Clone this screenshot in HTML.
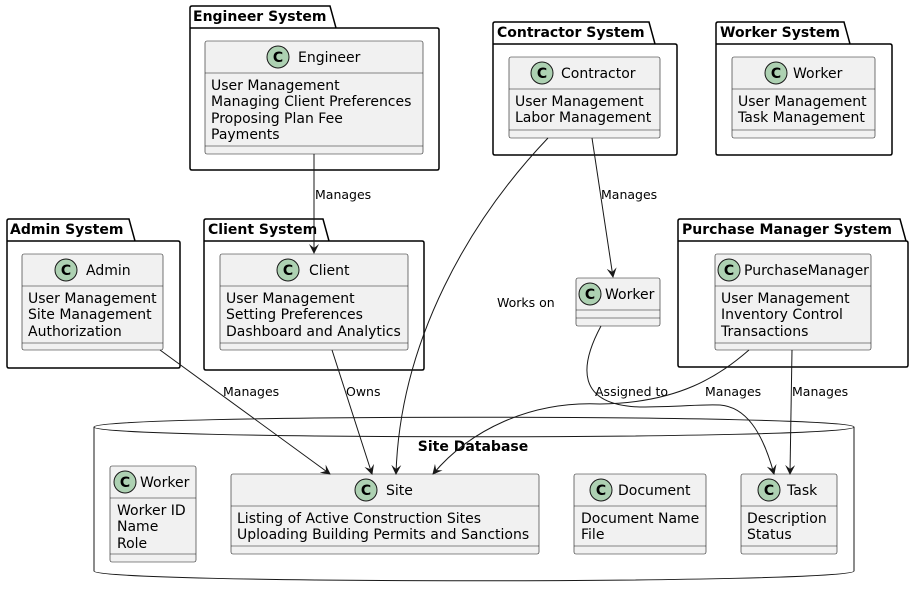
<!DOCTYPE html>
<html><head><meta charset="utf-8"><style>
body{margin:0;background:#fff}
svg{display:block;font-family:"DejaVu Sans","Liberation Sans",sans-serif}
.pk{fill:none;stroke:#000;stroke-width:1.5}
.cl{fill:#f1f1f1;stroke:#181818;stroke-width:0.6}
.ln{stroke:#181818;stroke-width:0.6}
.t{font-size:14px;fill:#000}
.pt{font-size:14px;font-weight:bold;fill:#000}
.lb{font-size:12.5px;fill:#000}
.ar{fill:none;stroke:#181818;stroke-width:1}
</style></head><body>
<svg width="914" height="595" viewBox="0 0 914 595">
<defs>
<marker id="a" viewBox="0 0 10 10" refX="9" refY="5" markerWidth="10" markerHeight="10" orient="auto" markerUnits="userSpaceOnUse"><path d="M0,0 L10,5 L0,10 L4,5 Z" fill="#181818"/></marker>
<g id="c"><circle r="11" fill="#ADD1B2" stroke="#181818" stroke-width="1"/><text x="0" y="5" text-anchor="middle" style="font-size:14px;font-weight:bold">C</text></g>
</defs>

<path class="pk" d="M190,28 V8 Q190,6 192,6 H330 L336,28 H437 Q439,28 439,30 V168 Q439,170 437,170 H192 Q190,170 190,168 Z M190,28 H336"/>
<text class="pt" x="193" y="21">Engineer System</text>
<rect class="cl" x="205" y="41" width="218" height="113" rx="2"/>
<use href="#c" x="278" y="57"/><text class="t" x="298" y="62">Engineer</text>
<line class="ln" x1="205" y1="73" x2="423" y2="73"/>
<text class="t" x="211" y="90">User Management</text><text class="t" x="211" y="106">Managing Client Preferences</text><text class="t" x="211" y="123">Proposing Plan Fee</text><text class="t" x="211" y="139">Payments</text>
<line class="ln" x1="205" y1="146" x2="423" y2="146"/>

<path class="pk" d="M493,44 V24 Q493,22 495,22 H649 L655,44 H675 Q677,44 677,46 V153 Q677,155 675,155 H495 Q493,155 493,153 Z M493,44 H655"/>
<text class="pt" x="497" y="37">Contractor System</text>
<rect class="cl" x="509" y="57" width="151" height="81" rx="2"/>
<use href="#c" x="542" y="73"/><text class="t" x="561" y="78">Contractor</text>
<line class="ln" x1="509" y1="89" x2="660" y2="89"/>
<text class="t" x="515" y="106">User Management</text><text class="t" x="515" y="122">Labor Management</text>
<line class="ln" x1="509" y1="130" x2="660" y2="130"/>

<path class="pk" d="M716,44 V24 Q716,22 718,22 H844 L850,44 H890 Q892,44 892,46 V153 Q892,155 890,155 H718 Q716,155 716,153 Z M716,44 H850"/>
<text class="pt" x="720" y="37">Worker System</text>
<rect class="cl" x="732" y="57" width="143" height="81" rx="2"/>
<use href="#c" x="776" y="73"/><text class="t" x="793" y="78">Worker</text>
<line class="ln" x1="732" y1="89" x2="875" y2="89"/>
<text class="t" x="738" y="106">User Management</text><text class="t" x="738" y="122">Task Management</text>
<line class="ln" x1="732" y1="130" x2="875" y2="130"/>

<path class="pk" d="M7,241 V221 Q7,219 9,219 H129 L135,241 H178 Q180,241 180,243 V366 Q180,368 178,368 H9 Q7,368 7,366 Z M7,241 H135"/>
<text class="pt" x="10" y="234">Admin System</text>
<rect class="cl" x="22" y="254" width="141" height="96" rx="2"/>
<use href="#c" x="66" y="270"/><text class="t" x="86" y="275">Admin</text>
<line class="ln" x1="22" y1="286" x2="163" y2="286"/>
<text class="t" x="28" y="303">User Management</text><text class="t" x="28" y="319">Site Management</text><text class="t" x="28" y="336">Authorization</text>
<line class="ln" x1="22" y1="343" x2="163" y2="343"/>

<path class="pk" d="M204,241 V221 Q204,219 206,219 H323 L329,241 H422 Q424,241 424,243 V368 Q424,370 422,370 H206 Q204,370 204,368 Z M204,241 H329"/>
<text class="pt" x="208" y="234">Client System</text>
<rect class="cl" x="220" y="254" width="188" height="96" rx="2"/>
<use href="#c" x="288" y="270"/><text class="t" x="309" y="275">Client</text>
<line class="ln" x1="220" y1="286" x2="408" y2="286"/>
<text class="t" x="226" y="303">User Management</text><text class="t" x="226" y="319">Setting Preferences</text><text class="t" x="226" y="336">Dashboard and Analytics</text>
<line class="ln" x1="220" y1="343" x2="408" y2="343"/>

<path class="pk" d="M678,241 V221 Q678,219 680,219 H900 L906,241 H906 Q908,241 908,243 V365 Q908,367 906,367 H680 Q678,367 678,365 Z M678,241 H906"/>
<text class="pt" x="682" y="234">Purchase Manager System</text>
<rect class="cl" x="715" y="254" width="156" height="96" rx="2"/>
<use href="#c" x="729" y="270"/><text class="t" x="744" y="275">PurchaseManager</text>
<line class="ln" x1="715" y1="286" x2="871" y2="286"/>
<text class="t" x="721" y="303">User Management</text><text class="t" x="721" y="319">Inventory Control</text><text class="t" x="721" y="336">Transactions</text>
<line class="ln" x1="715" y1="343" x2="871" y2="343"/>

<rect class="cl" x="576" y="278" width="84" height="48" rx="2"/>
<use href="#c" x="590" y="294"/><text class="t" x="605" y="299">Worker</text>
<line class="ln" x1="576" y1="310" x2="660" y2="310"/><line class="ln" x1="576" y1="318" x2="660" y2="318"/>
<text class="lb" x="497" y="307">Works on</text>

<path d="M94,427 C94,414 854,414 854,427 V571 C854,584 94,584 94,571 Z" fill="#fff" stroke="#181818" stroke-width="1"/>
<path d="M94,427 C94,440 854,440 854,427" fill="none" stroke="#181818" stroke-width="1"/>
<text class="pt" x="473" y="451" text-anchor="middle">Site Database</text>

<rect class="cl" x="110" y="466" width="86" height="96" rx="2"/>
<use href="#c" x="125" y="482"/><text class="t" x="140" y="487">Worker</text>
<line class="ln" x1="110" y1="498" x2="196" y2="498"/>
<text class="t" x="117" y="515">Worker ID</text><text class="t" x="117" y="531">Name</text><text class="t" x="117" y="548">Role</text>
<line class="ln" x1="110" y1="554" x2="196" y2="554"/>

<rect class="cl" x="231" y="474" width="308" height="80" rx="2"/>
<use href="#c" x="366" y="490"/><text class="t" x="386" y="495">Site</text>
<line class="ln" x1="231" y1="506" x2="539" y2="506"/>
<text class="t" x="237" y="523">Listing of Active Construction Sites</text><text class="t" x="237" y="539">Uploading Building Permits and Sanctions</text>
<line class="ln" x1="231" y1="546" x2="539" y2="546"/>

<rect class="cl" x="574" y="474" width="132" height="80" rx="2"/>
<use href="#c" x="601" y="490"/><text class="t" x="618" y="495">Document</text>
<line class="ln" x1="574" y1="506" x2="706" y2="506"/>
<text class="t" x="581" y="523">Document Name</text><text class="t" x="581" y="539">File</text>
<line class="ln" x1="574" y1="546" x2="706" y2="546"/>

<rect class="cl" x="741" y="474" width="96" height="80" rx="2"/>
<use href="#c" x="769" y="490"/><text class="t" x="787" y="495">Task</text>
<line class="ln" x1="741" y1="506" x2="837" y2="506"/>
<text class="t" x="747" y="523">Description</text><text class="t" x="747" y="539">Status</text>
<line class="ln" x1="741" y1="546" x2="837" y2="546"/>

<path class="ar" d="M314,154 V253" marker-end="url(#a)"/><text class="lb" x="315" y="199">Manages</text>
<path class="ar" d="M592,138 L613,277" marker-end="url(#a)"/><text class="lb" x="601" y="199">Manages</text>
<path class="ar" d="M548,138 C470,220 400,340 396,474" marker-end="url(#a)"/>
<path class="ar" d="M160,350 L330,474" marker-end="url(#a)"/><text class="lb" x="223" y="396">Manages</text>
<path class="ar" d="M332,350 L372,474" marker-end="url(#a)"/><text class="lb" x="346" y="396">Owns</text>
<path class="ar" d="M601,326 C580,365 575,405 640,407 C680,407 700,404 720,405 C745,407 762,430 774,474" marker-end="url(#a)"/><text class="lb" x="595" y="396">Assigned to</text>
<path class="ar" d="M749,350 C720,375 680,403 600,404 C530,401 470,430 433,474" marker-end="url(#a)"/><text class="lb" x="705" y="396">Manages</text>
<path class="ar" d="M792,350 L790,474" marker-end="url(#a)"/><text class="lb" x="792" y="396">Manages</text>
</svg>
</body></html>
